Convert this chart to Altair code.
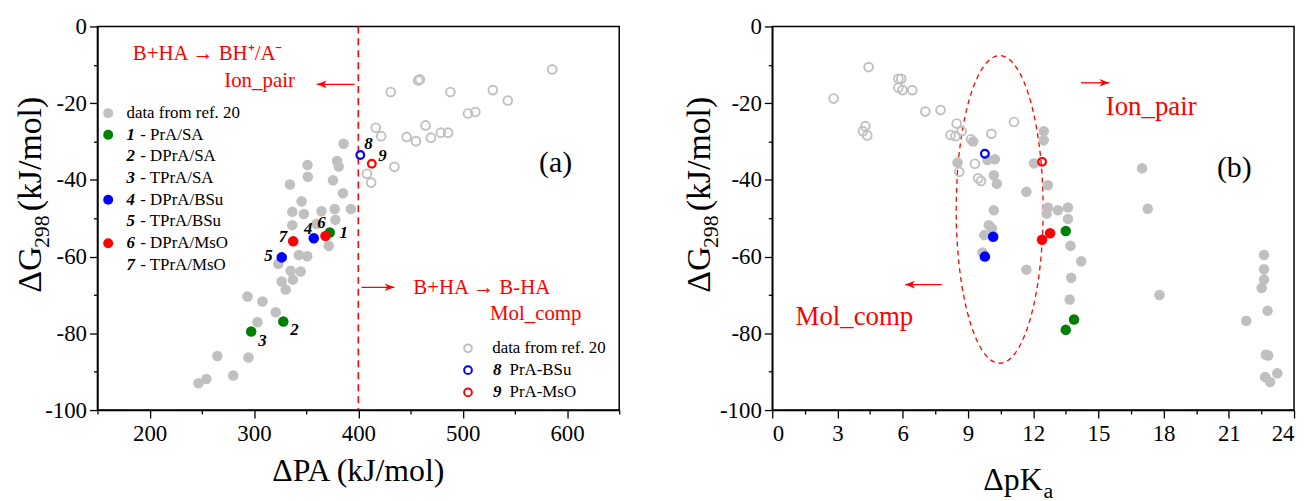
import altair as alt
import pandas as pd
import numpy as np

FONT = "Liberation Serif"
GRAY = "#c0c0c0"
GREEN = "#008000"
BLUE = "#0000ff"
RED = "#ff0000"

# ---------------- data: panel (a) ----------------
a_mol_x = [385.9, 379.6, 381.2, 351.3, 351.6, 334.5, 375.7, 385.3, 345.6, 336.7, 347.8, 364.7,
           377.4, 392.9, 378.0, 336.7, 359.9, 371.6, 343.0, 351.0, 323.3, 335.1, 344.7, 326.5,
           337.3, 330.4, 293.8, 308.1, 320.8, 303.3, 294.7, 280.1, 264.9, 254.4, 246.8]
a_mol_y = [-30.6, -35.1, -36.5, -36.1, -39.2, -41.2, -40.1, -43.5, -45.6, -48.3, -48.9, -48.2,
           -47.6, -47.6, -50.4, -51.8, -51.5, -57.2, -59.6, -59.9, -61.9, -63.7, -63.9, -66.5,
           -66.0, -68.6, -70.4, -71.7, -74.5, -77.1, -86.3, -91.0, -85.9, -91.9, -93.0]
a_ion_x = [431.0, 457.4, 459.0, 488.2, 528.9, 543.2, 585.8, 505.1, 512.1, 464.4, 416.7, 421.9,
           446.3, 455.2, 469.5, 479.1, 486.0, 434.6, 408.2, 412.3]
a_ion_y = [-17.1, -14.1, -13.8, -17.1, -16.6, -19.3, -11.2, -22.7, -22.3, -25.8, -26.4, -28.6,
           -28.8, -29.9, -29.0, -27.7, -27.7, -36.6, -38.4, -40.7]

# compounds 1..7 (filled) and 8..9 (open)
comp_num = ["1", "2", "3", "4", "5", "6", "7"]
comp_grp = ["SA", "SA", "SA", "BSu", "BSu", "MsO", "MsO"]
a_comp_x = [372.6, 328.1, 297.3, 357.3, 326.6, 368.5, 337.6]
a_comp_y = [-53.7, -76.9, -79.5, -55.2, -60.2, -54.6, -56.0]
open_num = ["8", "9"]
open_grp = ["BSu", "MsO"]
a_open_x = [401.9, 412.9]
a_open_y = [-33.5, -35.8]

# ---------------- data: panel (b) ----------------
b_ion_x = [2.82, 4.43, 4.28, 4.17, 4.37, 5.80, 5.93, 5.80, 5.99, 6.44, 7.04, 7.74, 8.48, 8.71,
           8.20, 8.43, 9.14, 10.08, 11.12, 9.32, 8.60, 9.47, 9.60]
b_ion_y = [-18.8, -10.6, -26.0, -27.3, -28.4, -13.65, -13.65, -16.0, -16.6, -16.6, -22.2, -21.8,
           -25.3, -27.3, -28.3, -28.6, -29.4, -28.0, -24.9, -35.8, -37.9, -39.6, -40.3]
b_mol_x = [9.24, 8.52, 10.24, 9.90, 10.19, 10.33, 11.69, 12.49, 12.49, 12.04, 12.68, 12.68, 13.14,
           13.60, 12.62, 13.60, 10.19, 9.96, 10.11, 9.75, 9.67, 11.69, 13.72, 14.21, 13.75, 13.68,
           17.01, 17.27, 17.81, 22.62, 22.62, 22.62, 22.51, 22.78, 21.80, 22.70, 22.81, 23.23,
           22.67, 22.90]
b_mol_y = [-30.0, -35.5, -34.6, -34.8, -38.8, -41.0, -43.1, -27.3, -29.7, -35.7, -41.4, -47.2, -47.9,
           -47.2, -48.8, -50.2, -47.9, -51.8, -52.7, -54.4, -58.9, -63.4, -57.2, -61.2, -65.5, -71.2,
           -37.0, -47.5, -70.0, -59.6, -63.3, -66.0, -68.2, -74.1, -76.7, -85.6, -85.8, -90.4,
           -91.4, -92.7]
b_comp_x = [13.50, 13.88, 13.50, 10.16, 9.78, 12.78, 12.41]
b_comp_y = [-53.3, -76.4, -79.1, -54.8, -60.0, -53.9, -55.6]
b_open_x = [9.78, 12.41]
b_open_y = [-33.2, -35.3]

# legend entries
legA_num = ["", "1", "2", "3", "4", "5", "6", "7"]
legA_txt = ["data from ref. 20", "- PrA/SA", "- DPrA/SA", "- TPrA/SA", "- DPrA/BSu",
            "- TPrA/BSu", "- DPrA/MsO", "- TPrA/MsO"]
legA_col = ["gray", "SA", "", "", "BSu", "", "MsO", ""]
legB_num = ["", "8", "9"]
legB_txt = ["data from ref. 20", "PrA-BSu", "PrA-MsO"]
legB_col = ["gray", "BSu", "MsO"]

W, H = 525, 386
grp_scale = alt.Scale(domain=["gray", "SA", "BSu", "MsO"], range=[GRAY, GREEN, BLUE, RED])


def axis_x(step_major, vals):
    return alt.Axis(values=vals, title=None, grid=False,
                    labelExpr=f"datum.value % {step_major} === 0 ? '' + datum.value : ''",
                    tickSize={"condition": {"test": f"datum.value % {step_major} === 0", "value": 8},
                              "value": 4},
                    labelPadding=5)


def axis_y():
    vals = list(range(-100, 1, 10))
    return alt.Axis(values=vals, title=None, grid=False,
                    labelExpr="datum.value % 20 === 0 ? '' + datum.value : ''",
                    tickSize={"condition": {"test": "datum.value % 20 === 0", "value": 8},
                              "value": 4},
                    labelPadding=3)


def pts(xs, ys, **extra):
    d = {"x": xs, "y": ys}
    d.update(extra)
    return pd.DataFrame(d)


def build_panel(xscale, xaxis, yscale, yaxis, mol, ion, comp, opn, texts, arrows,
                extra_layers, titles):
    def X(f="x"):
        return alt.X(f"{f}:Q", scale=xscale, axis=xaxis)

    def Y(f="y"):
        return alt.Y(f"{f}:Q", scale=yscale, axis=yaxis)

    layers = [lay(X, Y) for lay in extra_layers]
    layers.append(alt.Chart(mol).mark_circle(size=112, color=GRAY, opacity=1).encode(x=X(), y=Y()))
    layers.append(alt.Chart(ion).mark_point(shape="circle", filled=False, size=78, color=GRAY,
                                            strokeWidth=1.9, opacity=1).encode(x=X(), y=Y()))
    layers.append(alt.Chart(comp).mark_circle(size=112, opacity=1).encode(
        x=X(), y=Y(), color=alt.Color("g:N", scale=grp_scale, legend=None)))
    layers.append(alt.Chart(opn).mark_point(shape="circle", filled=False, size=60, strokeWidth=2.2,
                                            opacity=1).encode(
        x=X(), y=Y(), color=alt.Color("g:N", scale=grp_scale, legend=None)))
    for (x1, x2, y, direction) in arrows:
        ad = pd.DataFrame({"x": [x1], "x2": [x2], "y": [y],
                           "tx": [x1 if direction == "left" else x2]})
        layers.append(alt.Chart(ad).mark_rule(color=RED, strokeWidth=1.3).encode(
            x=X(), x2="x2:Q", y=Y()))
        shape = ("M0,0L-1,-0.38L-0.7,0L-1,0.38Z" if direction == "right"
                 else "M0,0L1,-0.38L0.7,0L1,0.38Z")
        layers.append(alt.Chart(ad).mark_point(shape=shape, filled=True, size=400, color=RED,
                                               opacity=1, strokeWidth=0).encode(
            x=X("tx"), y=Y()))
    for df, props in texts:
        layers.append(alt.Chart(df).mark_text(font=FONT, **props).encode(
            x=X(), y=Y(), text="t:N"))
    for (txt, px, py, props) in titles:
        layers.append(alt.Chart(pd.DataFrame({"t": [txt]})).mark_text(
            font=FONT, color="black", **props).encode(
            x=alt.value(px), y=alt.value(py), text="t:N"))
    return alt.layer(*layers).properties(width=W, height=H)


# -------- panel (a) --------
xs_a = alt.Scale(domain=[150, 650], nice=False, zero=False)
xa_a = axis_x(100, list(range(150, 651, 50)))
ys = alt.Scale(domain=[-100, 0], nice=False, zero=False)

mol_a = pts(a_mol_x, a_mol_y)
ion_a = pts(a_ion_x, a_ion_y)
comp_a = pts(a_comp_x, a_comp_y, g=comp_grp)
open_a = pts(a_open_x, a_open_y, g=open_grp)

lab_a = pd.DataFrame({"t": comp_num + open_num,
                      "x": [385.9, 338.9, 308.1, 351.9, 313.8, 364.7, 327.8, 409.8, 423.1],
                      "y": [-53.9, -79.1, -81.9, -52.7, -59.9, -51.3, -55.0, -30.7, -33.8]})
red_a = pd.DataFrame({"t": ["B+HA \u2192  BH\u207a/A\u207b", "Ion_pair", "B+HA \u2192  B-HA", "Mol_comp"],
                      "x": [183.8, 271.5, 452.7, 526.1],
                      "y": [-8.7, -15.7, -69.8, -76.6]})
tag_a = pd.DataFrame({"t": ["(a)"], "x": [589.0], "y": [-35.5]})

legA_y = [-22.6 - 5.65 * i for i in range(8)]
legA_mark = pd.DataFrame({"x": [160.3] * 8, "y": legA_y, "g": legA_col})
legA_mark = legA_mark[legA_mark.g != ""]
legA_n = pd.DataFrame({"t": legA_num, "x": [177.8] * 8, "y": legA_y})
legA_t = pd.DataFrame({"t": legA_txt, "x": [177.8] + [191.0] * 7, "y": legA_y})

legB_y = [-83.9, -89.6, -95.4]
legB_mark = pd.DataFrame({"x": [505.1] * 3, "y": legB_y, "g": legB_col})
legB_n = pd.DataFrame({"t": legB_num, "x": [529.0] * 3, "y": legB_y})
legB_t = pd.DataFrame({"t": legB_txt, "x": [528.3, 544.9, 544.9], "y": legB_y})


def dash_layer(X, Y):
    return alt.Chart(pd.DataFrame({"x": [400]})).mark_rule(
        color=RED, strokeDash=[7, 5], strokeWidth=1.6).encode(x=X())


def legA_layer(X, Y):
    return alt.Chart(legA_mark).mark_circle(size=100, opacity=1).encode(
        x=X(), y=Y(), color=alt.Color("g:N", scale=grp_scale, legend=None))


def legB_layer(X, Y):
    return alt.Chart(legB_mark).mark_point(shape="circle", filled=False, size=60,
                                           strokeWidth=2, opacity=1).encode(
        x=X(), y=Y(), color=alt.Color("g:N", scale=grp_scale, legend=None))


num_style = dict(fontSize=17, fontStyle="italic", fontWeight="bold", color="black")
texts_a = [
    (lab_a, dict(align="center", baseline="middle", **num_style)),
    (red_a, dict(align="left", baseline="alphabetic", fontSize=21, color=RED)),
    (tag_a, dict(align="center", baseline="middle", fontSize=30, color="black")),
    (legA_n, dict(align="left", baseline="middle", **num_style)),
    (legA_t, dict(align="left", baseline="middle", fontSize=17, color="black")),
    (legB_n, dict(align="left", baseline="middle", **num_style)),
    (legB_t, dict(align="left", baseline="middle", fontSize=17, color="black")),
]
arrows_a = [(360.2, 396.4, -15.1, "left"), (403.0, 434.6, -68.0, "right")]

TF = 34
SF = 22


def ytitle(bx):
    y0 = 268
    return [
        ("\u0394G", bx, y0, dict(angle=270, align="left", baseline="alphabetic", fontSize=TF)),
        ("298", bx + 8, y0 - 45, dict(angle=270, align="left", baseline="alphabetic", fontSize=SF)),
        ("(kJ/mol)", bx, y0 - 82, dict(angle=270, align="left", baseline="alphabetic", fontSize=TF)),
    ]


titles_a = ytitle(-57) + [
    ("\u0394PA (kJ/mol)", W / 2, 457, dict(align="center", baseline="alphabetic", fontSize=32)),
]

left = build_panel(xs_a, xa_a, ys, axis_y(), mol_a, ion_a, comp_a, open_a, texts_a, arrows_a,
                   [dash_layer, legA_layer, legB_layer], titles_a)

# -------- panel (b) --------
xs_b = alt.Scale(domain=[0, 24], nice=False, zero=False)
xa_b = axis_x(3, [i * 1.5 for i in range(17)])

tt = np.linspace(0, 2 * np.pi, 121)
ell = pd.DataFrame({"x": 10.46 + 2.0 * np.cos(tt), "y": -47.7 + 40.1 * np.sin(tt),
                    "i": np.arange(121)})


def ell_layer(X, Y):
    return alt.Chart(ell).mark_line(color=RED, strokeDash=[5, 4], strokeWidth=1.3).encode(
        x=X(), y=Y(), order="i:Q")


mol_b = pts(b_mol_x, b_mol_y)
ion_b = pts(b_ion_x, b_ion_y)
comp_b = pts(b_comp_x, b_comp_y, g=comp_grp)
open_b = pts(b_open_x, b_open_y, g=open_grp)

red_b = pd.DataFrame({"t": ["Ion_pair", "Mol_comp"], "x": [15.34, 1.07], "y": [-23.0, -77.9]})
tag_b = pd.DataFrame({"t": ["(b)"], "x": [21.25], "y": [-36.8]})
texts_b = [
    (red_b, dict(align="left", baseline="alphabetic", fontSize=27, color=RED)),
    (tag_b, dict(align="center", baseline="middle", fontSize=30, color="black")),
]
arrows_b = [(14.2, 15.5, -14.7, "right"), (6.11, 7.79, -67.3, "left")]
titles_b = ytitle(-63) + [
    ("\u0394pK", 272, 466, dict(align="right", baseline="alphabetic", fontSize=32)),
    ("a", 273, 474, dict(align="left", baseline="alphabetic", fontSize=22)),
]

right = build_panel(xs_b, xa_b, ys, axis_y(), mol_b, ion_b, comp_b, open_b, texts_b, arrows_b,
                    [ell_layer], titles_b)

chart = alt.hconcat(left, right, spacing=61).properties(
    padding={"left": 5, "top": 5, "right": 5, "bottom": 5}
).configure_view(stroke="black", strokeWidth=1.5).configure_axis(
    domainColor="black", domainWidth=1.5, tickColor="black", tickWidth=1.3,
    labelFont=FONT, labelFontSize=23, labelColor="black"
)

chart.save("out.html", embed_options={"renderer": "svg", "actions": False})
